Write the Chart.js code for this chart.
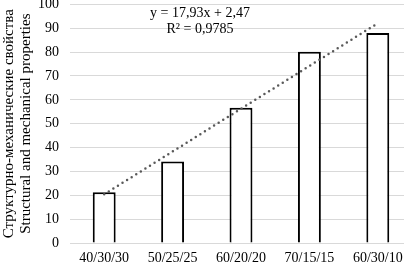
<!DOCTYPE html>
<html>
<head>
<meta charset="utf-8">
<script src="https://cdn.jsdelivr.net/npm/chart.js@4/dist/chart.umd.min.js"></script>
<style>
  html, body { margin: 0; padding: 0; background: #fff; overflow: hidden; }
  #wrap { width: 416px; height: 266px; overflow: hidden; }
  #propChart { margin-top: -15px; }
</style>
</head>
<body>
<div id="wrap"><canvas id="propChart" width="416" height="281"></canvas></div>
<script>
  // Chart data
  const categories = ['40/30/30', '50/25/25', '60/20/20', '70/15/15', '60/30/10'];
  const values = [21.3, 34.2, 56.7, 80.2, 88];
  const yTicks = [0, 10, 20, 30, 40, 50, 60, 70, 80, 90, 100];
  const trendSlope = 17.93;
  const trendIntercept = 2.47;
  const trendLabel = ['y = 17,93x + 2,47', 'R² = 0,9785'];

  // linear trend over category index 1..n
  const trendValues = categories.map((c, i) => trendSlope * (i + 1) + trendIntercept);

  const serif = 'Liberation Serif, Times New Roman, serif';

  // Draw the trendline equation text (canvas is shifted up 15px)
  const equationPlugin = {
    id: 'equation',
    afterDraw(chart) {
      const ctx = chart.ctx;
      ctx.save();
      ctx.fillStyle = '#000';
      ctx.font = '14px ' + serif;
      ctx.textAlign = 'center';
      ctx.textBaseline = 'middle';
      ctx.fillText(trendLabel[0], 200, 13 + 15);
      ctx.fillText(trendLabel[1], 200, 29 + 15);
      ctx.restore();
    }
  };

  const ctx1 = document.getElementById('propChart').getContext('2d');
  new Chart(ctx1, {
    type: 'bar',
    data: {
      labels: categories,
      datasets: [{
        type: 'line',
        data: trendValues,
        borderColor: '#595959',
        borderWidth: 2.5,
        borderDash: [0, 5.4],
        borderCapStyle: 'round',
        pointRadius: 0,
        fill: false,
        order: 0
      }, {
        data: values,
        backgroundColor: '#ffffff',
        borderColor: '#000000',
        borderWidth: 2,
        barPercentage: 0.335,
        categoryPercentage: 1,
        order: 1
      }]
    },
    options: {
      responsive: false,
      animation: false,
      layout: { padding: { top: 0, right: 4, left: 0, bottom: 0 } },
      plugins: {
        legend: { display: false },
        tooltip: { enabled: false }
      },
      scales: {
        x: {
          grid: { display: false, drawTicks: false },
          border: { color: '#d9d9d9', width: 1 },
          ticks: { color: '#000', font: { family: serif, size: 14 }, padding: 7, maxRotation: 0 },
          afterFit(scale) { scale.height = 23; }
        },
        y: {
          min: 0,
          max: 100,
          afterBuildTicks(scale) { scale.ticks = yTicks.map(v => ({ value: v })); },
          grid: { color: '#d9d9d9', lineWidth: 1, drawTicks: false },
          border: { display: false },
          ticks: { color: '#000', font: { family: serif, size: 14 }, padding: 11 },
          title: {
            display: true,
            text: ['Структурно-механические свойства', 'Structural and mechanical properties'],
            color: '#000',
            font: { family: serif, size: 15, lineHeight: 1.1 },
            padding: { top: 1, bottom: 0 }
          },
          afterFit(scale) { scale.width = 70; }
        }
      }
    },
    plugins: [equationPlugin]
  });
</script>
</body>
</html>
